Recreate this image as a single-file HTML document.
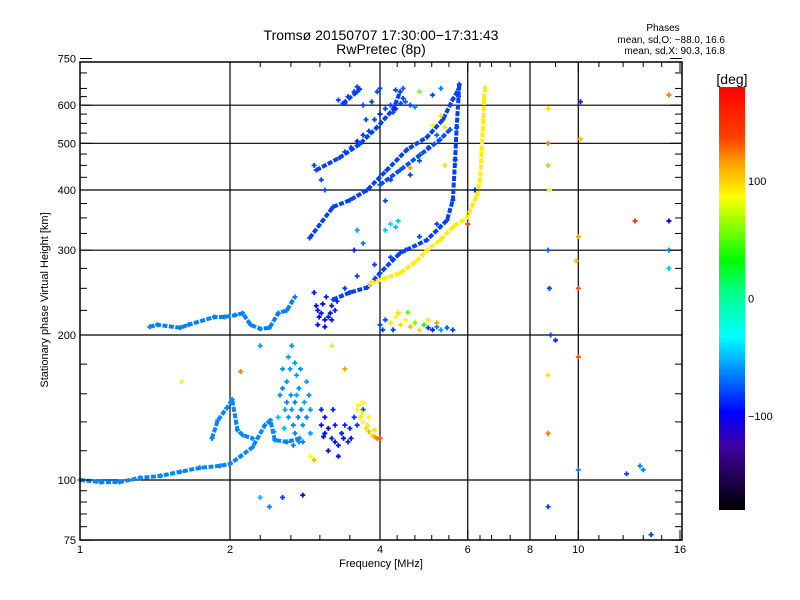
<!DOCTYPE html>
<html><head><meta charset="utf-8"><style>
body{margin:0;background:#fff}
svg{display:block;font-family:"Liberation Sans",sans-serif}
</style></head><body>
<svg id="chart" width="800" height="600" viewBox="0 0 800 600">
<defs><linearGradient id="cbar" x1="0" y1="1" x2="0" y2="0">
<stop offset="0" stop-color="#000000"/><stop offset="0.15" stop-color="#4000a0"/>
<stop offset="0.23" stop-color="#0000ff"/><stop offset="0.32" stop-color="#0080ff"/>
<stop offset="0.41" stop-color="#00ffff"/><stop offset="0.52" stop-color="#00ff80"/>
<stop offset="0.59" stop-color="#00ff00"/><stop offset="0.74" stop-color="#ffff00"/>
<stop offset="0.82" stop-color="#ffa000"/><stop offset="0.88" stop-color="#ff4000"/>
<stop offset="1" stop-color="#ff0000"/></linearGradient></defs>
<g id="grid"></g>
<g id="marks"></g>
<rect x="80" y="62" width="602" height="478" fill="none" stroke="#000" stroke-width="1.5"/>
<g id="axes"></g>
<text x="381" y="40" font-size="14" text-anchor="middle">Tromsø 20150707 17:30:00−17:31:43</text>
<text x="381" y="54" font-size="14" text-anchor="middle">RwPretec (8p)</text>
<text x="663" y="31" font-size="10" text-anchor="middle">Phases</text>
<text x="725" y="43" font-size="10" text-anchor="end">mean, sd,O: −88.0, 16.6</text>
<text x="725" y="54" font-size="10" text-anchor="end">mean, sd,X:  90.3, 16.8</text>
<text x="381" y="567" font-size="11" text-anchor="middle">Frequency [MHz]</text>
<text x="48" y="300" font-size="11" text-anchor="middle" transform="rotate(-90 48 300)">Stationary phase Virtual Height [km]</text>
<rect x="719" y="87" width="26" height="423" fill="url(#cbar)"/>
<text x="732" y="84" font-size="14" text-anchor="middle">[deg]</text>
<g id="cbticks"></g>
</svg>
<script>
const xTicks=[1,2,4,6,8,10,16];
const xGrid=[2,4,6,8,10];
const xMinor=[2.3,2.65,3.03,3.48,4.33,4.7,5.08,5.5,6.35,6.7,7.3,9,11,12.3,13.5,14.7];
const yTicks=[75,100,200,300,400,500,600,750];
const yGrid=[100,200,300,400,500,600];
const yMinor=[80,85,90,95,115,132,151,174,225,250,275,325,350,375,425,450,475,525,550,575,625,650,700];
const cbTicks=[100,0,-100];
// traces: [freq MHz, height km]
const traceE1=[[1.0,100],[1.1,99],[1.2,99],[1.32,101],[1.45,102],[1.59,104],[1.74,106],[1.91,107],[2.0,108],[2.1,112],[2.22,117],[2.35,130],[2.41,133],[2.46,121],[2.6,120],[2.76,122]];
const traceE2=[[1.84,122],[1.89,133],[1.97,141],[2.02,147],[2.07,127],[2.12,124],[2.22,122]];
const traceFlow=[[1.38,208],[1.43,210],[1.59,207],[1.65,210],[1.86,218],[1.95,218],[2.05,220],[2.12,222],[2.2,210],[2.3,206],[2.4,207],[2.5,222],[2.6,225],[2.7,240]];
const traceO=[[3.22,237],[3.48,245],[3.77,251],[4.0,269],[4.39,296],[4.97,315],[5.45,346],[5.6,381],[5.66,462],[5.7,539],[5.75,625],[5.77,663]];
const traceX=[[3.82,256],[4.09,262],[4.39,269],[4.7,283],[4.97,300],[5.28,315],[5.6,335],[5.98,351],[6.26,390],[6.35,420],[6.4,485],[6.45,560],[6.47,617],[6.5,653]];
const traceHop2=[[2.89,318],[3.22,369],[3.48,381],[3.77,400],[4.13,440],[4.53,485],[4.97,515],[5.35,560],[5.6,617],[5.75,647]];
const traceHop2b=[[4.0,410],[4.39,440],[4.81,473],[5.28,509],[5.53,534]];
const traceHop3=[[2.98,440],[3.32,467],[3.64,498],[3.94,539],[4.25,588],[4.39,640]];
const traceHop3b=[[3.37,605],[3.6,640],[3.64,648]];
const tracePhase={E1:-78,E2:-78,Flow:-80,O:-100,X:95,Hop2:-100,Hop2b:-95,Hop3:-100,Hop3b:-100};
// scattered points: [freq, height, phase]
const scatterE=[[2.55,170,-75],[2.6,160,-75],[2.62,180,-70],[2.65,150,-75],[2.7,145,-80],[2.72,165,-70],[2.75,155,-75],[2.78,140,-80],[2.58,140,-70],[2.62,135,-75],[2.68,130,-80],[2.8,130,-75],[2.82,145,-70],[2.7,125,-80],[2.75,120,-75],[2.85,160,-70],[2.9,140,-75],[2.57,128,-65],[2.5,135,-60],[2.45,126,-75],[2.52,150,-75],[2.66,190,-75],[2.85,135,-80],[2.9,125,-75],[2.6,145,-80],[2.66,140,-75],[2.72,150,-70],[2.77,170,-75],[2.64,170,-70],[2.55,155,-80],[2.6,120,-80],[2.68,118,-80],[2.8,120,-80],[2.88,150,-75],[2.7,175,-70],[2.74,135,-80]];
const scatterPurpleE=[[3.05,130,-115],[3.1,125,-115],[3.15,128,-120],[3.2,122,-110],[3.25,120,-115],[3.3,118,-115],[3.1,135,-115],[3.22,140,-110],[3.35,125,-115],[3.5,122,-115],[3.4,130,-110],[3.6,130,-105],[3.05,140,-115],[3.15,115,-120],[3.3,112,-115],[3.45,120,-110],[3.55,135,-105],[3.7,140,-100],[3.08,123,-115],[3.25,130,-110],[3.38,122,-115],[3.48,128,-110]];
const scatterYellowE=[[3.6,140,90],[3.65,135,95],[3.7,132,90],[3.75,128,100],[3.8,126,110],[3.85,124,95],[3.9,123,120],[3.95,122,130],[3.7,145,90],[3.62,143,95],[3.8,135,90],[3.9,127,100],[2.9,112,90],[2.95,110,110],[4.0,122,140],[3.68,138,92],[3.78,130,95]];
const scatterFlow=[[4.0,210,-100],[4.1,215,-100],[4.2,212,80],[4.3,218,90],[4.4,210,100],[4.5,215,90],[4.6,208,110],[4.7,212,60],[4.8,205,100],[4.9,210,40],[5.0,207,-100],[5.1,205,-110],[5.2,208,-80],[5.3,205,-70],[5.45,207,-90],[5.6,205,-100],[4.35,222,100],[4.55,223,50],[4.05,205,-100],[4.25,205,-100],[5.0,215,80],[5.2,212,120]];
const scatterPurpleF=[[2.98,230,-120],[3.0,225,-115],[3.02,218,-120],[3.05,222,-115],[3.1,215,-120],[3.15,218,-110],[3.2,215,-115],[3.07,232,-120],[3.12,240,-110],[3.2,230,-115],[3.25,225,-110],[2.95,245,-110],[3.0,210,-115],[3.1,208,-120],[3.18,222,-115],[3.28,235,-110]];
const scatterUpper=[[4.2,600,-100],[4.3,590,-110],[4.4,605,-100],[4.5,610,-90],[4.6,600,-100],[4.7,595,-80],[4.25,580,-100],[4.45,620,-100],[3.9,560,-100],[4.0,575,-110],[4.1,590,-100],[3.95,640,-100],[4.0,650,-100],[4.3,645,-100],[4.45,650,-90],[3.3,615,-100],[3.4,605,-100],[3.55,640,-100],[3.6,655,-100],[3.45,625,-100],[5.1,630,-100],[5.3,650,-80],[4.8,640,60],[3.05,420,-100],[2.95,450,-100],[3.1,400,-95],[3.6,330,-70],[3.7,310,-80],[3.55,300,-110],[3.4,480,-100],[3.5,490,-100],[3.6,505,-110],[3.7,520,-100],[3.8,530,-100],[3.75,560,-100],[3.85,610,-100],[3.7,600,-100],[4.2,340,-50],[4.3,335,-60],[4.1,330,-60],[4.35,345,-55],[4.1,380,-100],[4.6,430,-100],[4.8,460,-100],[5.0,490,-100],[5.2,520,-90],[5.4,540,100],[5.1,545,90],[4.2,420,-100],[4.5,300,-100],[4.8,320,-100],[5.2,340,-100],[3.9,280,-100],[4.2,290,-100],[3.6,265,-100],[3.4,250,-100]];
const scatterOther=[[8.7,590,100],[8.7,500,130],[8.7,450,60],[8.75,400,90],[8.7,300,-90],[8.75,250,-100],[8.8,200,-100],[8.7,165,100],[8.7,125,130],[8.7,88,-100],[9.0,195,-110],[10.1,610,-110],[10.1,510,110],[10.0,320,120],[9.9,285,110],[10.0,250,140],[10.0,180,140],[10.0,105,-80],[13.5,105,-80],[13.3,107,-80],[12.5,103,-100],[14,77,-100],[13,345,150],[15.2,345,-130],[15.2,300,-80],[15.2,275,-60],[15.2,630,130],[6.0,340,150],[6.2,400,-110],[5.3,570,100],[5.4,450,100],[4.6,445,120],[2.3,92,-60],[2.4,88,-80],[2.55,92,-100],[2.8,93,-130],[1.6,160,90],[2.1,168,130],[2.3,190,-70],[3.2,190,80],[3.4,170,120]];

const X0=80,Y100=480,PXO=150,PYO=145;
const xs=f=>X0+PXO*Math.log2(f);
const ys=h=>Y100-PYO*Math.log2(h/100);
const NS='http://www.w3.org/2000/svg';
const stops=[[-180,[0,0,0]],[-150,[64,0,160]],[-120,[0,0,255]],[-80,[0,128,255]],[-40,[0,255,255]],[0,[0,255,128]],[30,[0,255,0]],[90,[255,255,0]],[120,[255,160,0]],[145,[255,64,0]],[180,[255,0,0]]];
function pc(p){for(let i=1;i<stops.length;i++){if(p<=stops[i][0]){const a=stops[i-1],b=stops[i],t=(p-a[0])/(b[0]-a[0]);return 'rgb('+a[1].map((v,k)=>Math.round(v+(b[1][k]-v)*t)).join(',')+')';}}return 'rgb(255,0,0)';}
function mk(tag,at,parent){const e=document.createElementNS(NS,tag);for(const k in at)e.setAttribute(k,at[k]);parent.appendChild(e);return e;}
const grid=document.getElementById('grid'),axes=document.getElementById('axes'),marks=document.getElementById('marks');
xGrid.forEach(f=>{const l=mk('line',{x1:xs(f),x2:xs(f),y1:62,y2:540,stroke:'#000','stroke-width':1.2},grid);

});
yGrid.forEach(h=>{const l=mk('line',{x1:80,x2:682,y1:ys(h),y2:ys(h),stroke:'#000','stroke-width':1.2},grid);

});
xTicks.forEach(f=>{const t=mk('text',{x:xs(f),y:553,'font-size':11,'text-anchor':'middle'},axes);t.textContent=f;


[540,62].forEach(y0=>mk('line',{x1:xs(f),x2:xs(f),y1:y0,y2:y0===540?530:72,stroke:'#000'},axes));});
xMinor.forEach(f=>{[540,62].forEach(y0=>{const l=mk('line',{x1:xs(f),x2:xs(f),y1:y0,y2:y0===540?535:67,stroke:'#000'},axes);

});});
yTicks.forEach(h=>{const t=mk('text',{x:76,y:ys(h)+4,'font-size':11,'text-anchor':'end'},axes);t.textContent=h;


mk('line',{x1:80,x2:92,y1:ys(h),y2:ys(h),stroke:'#000'},axes);mk('line',{x1:670,x2:682,y1:ys(h),y2:ys(h),stroke:'#000'},axes);});
yMinor.forEach(h=>{[[80,87],[675,682]].forEach(([a,b])=>{const l=mk('line',{x1:a,x2:b,y1:ys(h),y2:ys(h),stroke:'#000'},axes);

});});
const cbg=document.getElementById('cbticks');
cbTicks.forEach(v=>{const y=298.5-v*1.175;const t=mk('text',{x:748,y:y+4,'font-size':11},cbg);t.textContent=(v<0?'−'+(-v):v);

});
function plus(f,h,p,name){const x=xs(f),y=ys(h);const e=mk('path',{d:`M${x-2.5},${y}h5M${x},${y-2.5}v5`,stroke:pc(p),'stroke-width':1.8,fill:'none'},marks);

}
const traces={E1:traceE1,E2:traceE2,Flow:traceFlow,O:traceO,X:traceX,Hop2:traceHop2,Hop2b:traceHop2b,Hop3:traceHop3,Hop3b:traceHop3b};
for(const k in traces){const pts=traces[k];const pl=mk('polyline',{points:pts.map(p=>xs(p[0])+','+ys(p[1])).join(' '),fill:'none',stroke:pc(tracePhase[k]),'stroke-width':4,'stroke-linejoin':'round','stroke-dasharray':'5 1.5'},marks);


pts.forEach(p=>plus(p[0],p[1],tracePhase[k],'trace-point'));}
[scatterE,scatterPurpleE,scatterYellowE,scatterFlow,scatterPurpleF,scatterUpper,scatterOther].forEach(arr=>arr.forEach(p=>plus(p[0],p[1],p[2],'echo-point')));
</script>
</body></html>
